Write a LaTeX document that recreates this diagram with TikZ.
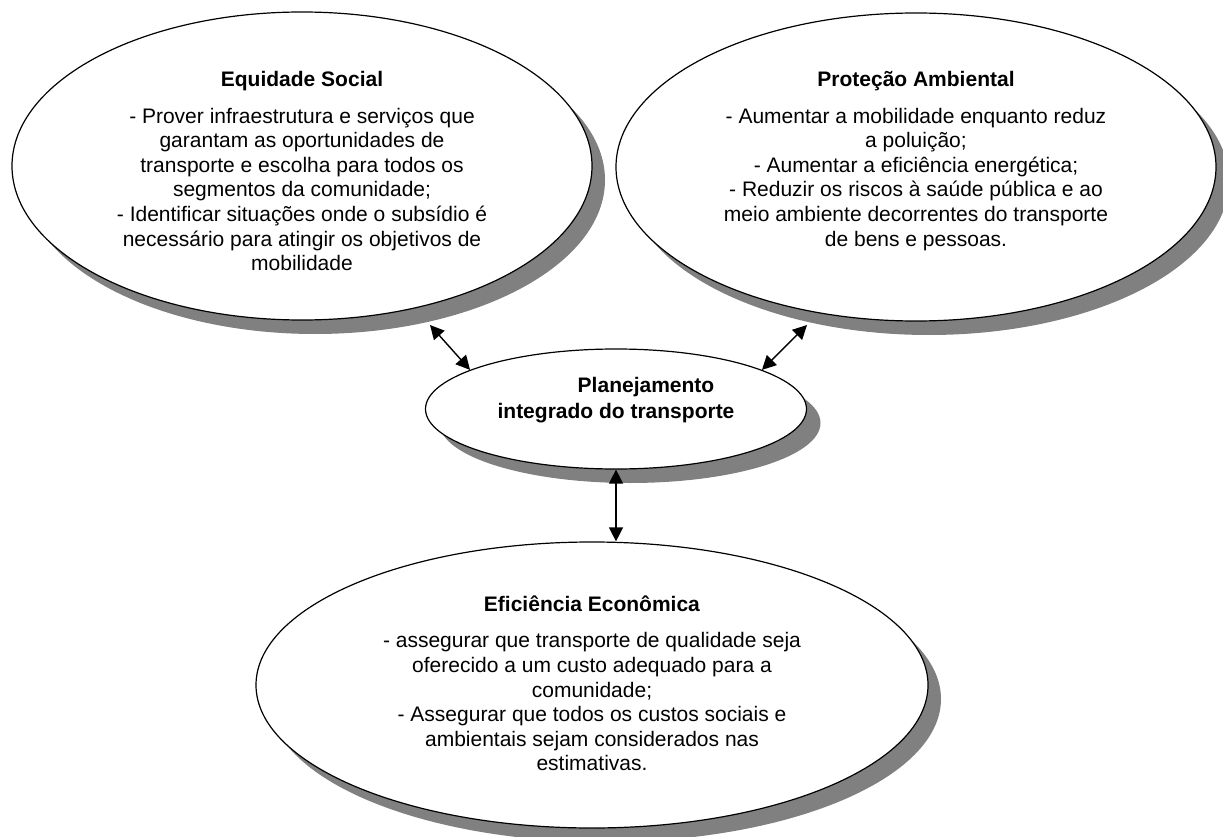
\documentclass[tikz,border=0pt]{standalone}
\usepackage{fontspec}
\setmainfont{Liberation Sans}
\usetikzlibrary{shapes.geometric,arrows.meta}
\definecolor{shadowgray}{HTML}{808080}
\tikzset{
  blob/.style={ellipse, draw=black, line width=1.2pt, fill=white, inner sep=0pt},
  blobshadow/.style={ellipse, fill=shadowgray, draw=none, inner sep=0pt},
  link/.style={line width=1.4pt, {Triangle[length=14pt,width=14pt]}-{Triangle[length=14pt,width=14pt]}},
  txt/.style={align=center, inner sep=0pt, font=\fontsize{21}{24.6}\selectfont}
}
\begin{document}
\begin{tikzpicture}[x=1pt,y=-1pt]
\useasboundingbox (0,0) rectangle (1223,837);
% shadows
\node[blobshadow, minimum width=580, minimum height=308] (s1) at (315,180) {};
\node[blobshadow, minimum width=600, minimum height=308] (s2) at (929,181) {};
\node[blobshadow, minimum width=381, minimum height=120] (s3) at (630,423) {};
\node[blobshadow, minimum width=672, minimum height=286] (s4) at (605,699) {};
% ellipses
\node[blob, minimum width=580, minimum height=308] (E1) at (302,166) {};
\node[blob, minimum width=600, minimum height=308] (E2) at (916,167) {};
\node[blob, minimum width=381, minimum height=120] (M) at (616,409) {};
\node[blob, minimum width=672, minimum height=286] (B) at (592,685) {};
% texts
\node[txt, anchor=north] (t1) at (302,71.5) {\textbf{Equidade Social}\\[11.5pt]
- Prover infraestrutura e serviços que\\
garantam as oportunidades de\\
transporte e escolha para todos os\\
segmentos da comunidade;\\
- Identificar situações onde o subsídio é\\
necessário para atingir os objetivos de\\
mobilidade};
\node[txt, anchor=north] (t2) at (916,71.5) {\textbf{Proteção Ambiental}\\[11.5pt]
- Aumentar a mobilidade enquanto reduz\\
a poluição;\\
- Aumentar a eficiência energética;\\
- Reduzir os riscos à saúde pública e ao\\
meio ambiente decorrentes do transporte\\
de bens e pessoas.};
\node[txt, anchor=north, font=\fontsize{21}{25.5}\selectfont\bfseries] (tm) at (616,377.5)
  {\hspace*{60pt}Planejamento\\integrado do transporte};
\node[txt, anchor=north] (t4) at (592,595.5) {\textbf{Eficiência Econômica}\\[12pt]
- assegurar que transporte de qualidade seja\\
oferecido a um custo adequado para a\\
comunidade;\\
- Assegurar que todos os custos sociais e\\
ambientais sejam considerados nas\\
estimativas.};
% connectors
\coordinate (f1) at (430,325);
\coordinate (f2) at (807,325);
\draw[link] (f1) -- (M.165);
\draw[link] (f2) -- (M.15);
\draw[link] (M.south) -- (M.south |- B.north);
\end{tikzpicture}
\end{document}
